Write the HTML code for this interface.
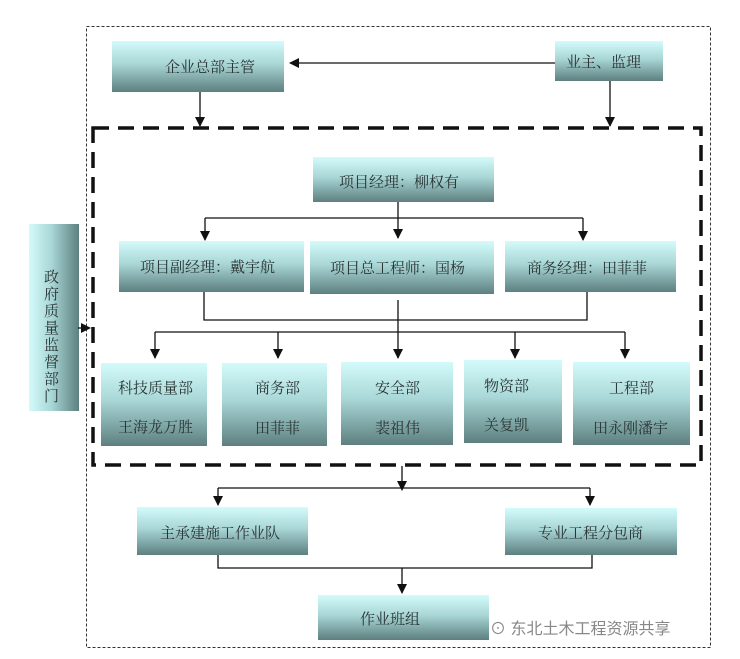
<!DOCTYPE html>
<html><head><meta charset="utf-8"><style>
body{margin:0;background:#fff}
svg{display:block}
text{font-family:"Liberation Serif","Noto Serif CJK SC","Noto Sans CJK SC",serif;font-size:15px;fill:#2a3434}
</style></head><body>
<svg width="740" height="659" viewBox="0 0 740 659">
<defs>
<linearGradient id="g" x1="0" y1="0" x2="0" y2="1">
<stop offset="0" stop-color="#d4fbfb"/><stop offset="0.45" stop-color="#a9d6d6"/><stop offset="1" stop-color="#5d7f7f"/>
</linearGradient>
<linearGradient id="gh" x1="0" y1="0" x2="1" y2="0">
<stop offset="0" stop-color="#d4fbfb"/><stop offset="0.45" stop-color="#a9d6d6"/><stop offset="1" stop-color="#5d7f7f"/>
</linearGradient>
<marker id="a" markerWidth="10" markerHeight="10" refX="9" refY="5" orient="auto" markerUnits="userSpaceOnUse"><path d="M0,0 L10,5 L0,10 z" fill="#111"/></marker>
</defs>
<rect x="86.5" y="26.5" width="624" height="621" fill="none" stroke="#333" stroke-dasharray="3,2"/>
<rect x="93" y="128" width="608" height="337" fill="none" stroke="#111" stroke-width="3.5" stroke-dasharray="16,9"/>
<g fill="url(#g)">
<rect x="112" y="41" width="172" height="51"/>
<rect x="555" y="41" width="108" height="40"/>
<rect x="313" y="157" width="181" height="45"/>
<rect x="119" y="241" width="185" height="51"/>
<rect x="310" y="241" width="184" height="53"/>
<rect x="505" y="241" width="171" height="51"/>
<rect x="101" y="363" width="106" height="83"/>
<rect x="222" y="363" width="105" height="83"/>
<rect x="341" y="362" width="112" height="83"/>
<rect x="464" y="360" width="98" height="83"/>
<rect x="573" y="362" width="117" height="83"/>
<rect x="137" y="507" width="171" height="48"/>
<rect x="505" y="508" width="172" height="47"/>
<rect x="318" y="595" width="171" height="45"/>
</g>
<rect x="29" y="224" width="50" height="187" fill="url(#gh)"/>
<g stroke="#111" stroke-width="1.3" fill="none">
<path d="M555 63 H290" marker-end="url(#a)"/>
<path d="M200 92 V126" marker-end="url(#a)"/>
<path d="M610 81 V126" marker-end="url(#a)"/>
<path d="M398 202 V238" marker-end="url(#a)"/>
<path d="M205 218 H583"/>
<path d="M205 218 V240" marker-end="url(#a)"/>
<path d="M583 218 V240" marker-end="url(#a)"/>
<path d="M204 292 V320 H587 V292"/>
<path d="M398 300 V358" marker-end="url(#a)"/>
<path d="M155 332 H625"/>
<path d="M155 332 V358" marker-end="url(#a)"/>
<path d="M278 332 V358" marker-end="url(#a)"/>
<path d="M515 332 V358" marker-end="url(#a)"/>
<path d="M625 332 V358" marker-end="url(#a)"/>
<path d="M78 328 H90" marker-end="url(#a)"/>
<path d="M402 466 V490" marker-end="url(#a)"/>
<path d="M218 488 H590"/>
<path d="M218 488 V505" marker-end="url(#a)"/>
<path d="M590 488 V505" marker-end="url(#a)"/>
<path d="M218 555 V568 H592 V555"/>
<path d="M402 568 V593" marker-end="url(#a)"/>
</g>
<text x="165" y="72">企业总部主管</text>
<text x="566" y="67">业主、监理</text>
<text x="339" y="187">项目经理：柳权有</text>
<text x="140" y="272">项目副经理：戴宇航</text>
<text x="330" y="273">项目总工程师：国杨</text>
<text x="527" y="273">商务经理：田菲菲</text>
<text x="118" y="393">科技质量部</text>
<text x="118" y="432">王海龙万胜</text>
<text x="255" y="393">商务部</text>
<text x="255" y="433">田菲菲</text>
<text x="375" y="393">安全部</text>
<text x="375" y="433">裴祖伟</text>
<text x="484" y="391">物资部</text>
<text x="484" y="430">关复凯</text>
<text x="609" y="393">工程部</text>
<text x="593" y="433">田永刚潘宇</text>
<text x="160" y="538">主承建施工作业队</text>
<text x="538" y="538">专业工程分包商</text>
<text x="360" y="624">作业班组</text>
<g style="font-size:16px">
<text x="44" y="282">政</text><text x="44" y="299">府</text><text x="44" y="316">质</text><text x="44" y="333">量</text><text x="44" y="350">监</text><text x="44" y="367">督</text><text x="44" y="384">部</text><text x="44" y="401">门</text>
</g>
<text x="490" y="634" style="fill:#888;font-family:'Liberation Sans','Noto Sans CJK SC',sans-serif;font-size:16px">⊙ 东北土木工程资源共享</text>
</svg>
</body></html>
